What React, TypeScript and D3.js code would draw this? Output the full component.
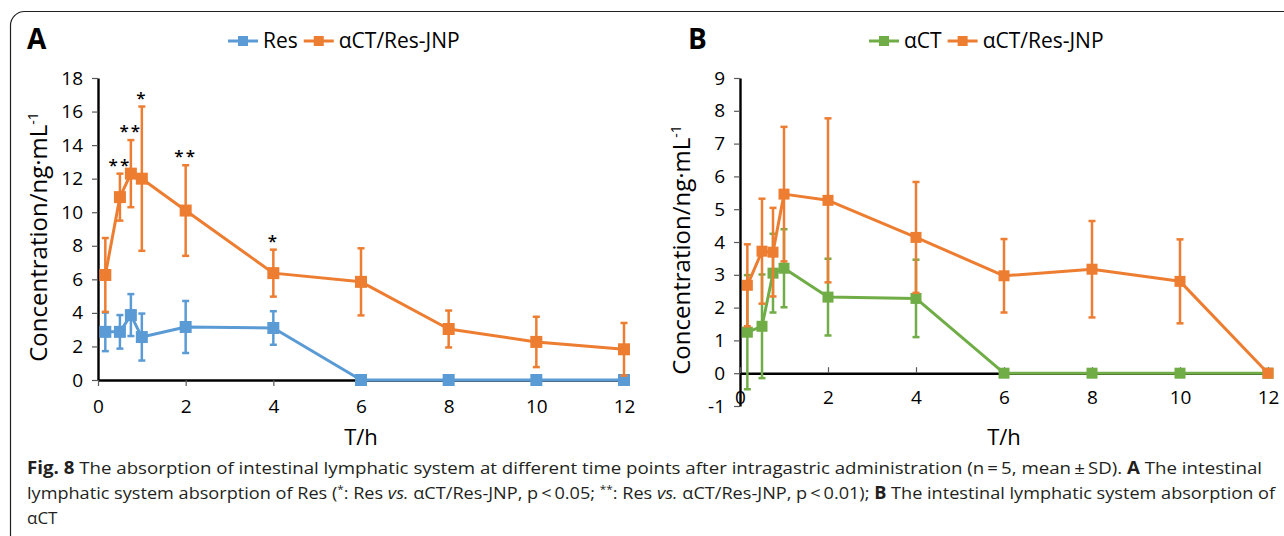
import React, { useRef, useEffect } from 'react';
import * as d3 from 'd3';

// sampling times (h), same for both panels
const times = [0.167, 0.5, 0.75, 1, 2, 4, 6, 8, 10, 12];
const xTicks = [0, 2, 4, 6, 8, 10, 12];

// panel A: Res
const resMean = [2.87, 2.87, 3.87, 2.56, 3.16, 3.1, 0, 0, 0, 0];
const resSD = [1.15, 1.0, 1.25, 1.4, 1.55, 1.0, 0, 0, 0, 0];
const jnpAMean = [6.26, 10.9, 12.3, 12.0, 10.1, 6.37, 5.85, 3.04, 2.27, 1.83];
const jnpASD = [2.2, 1.4, 2.0, 4.3, 2.7, 1.4, 2.0, 1.1, 1.5, 1.57];
const sigA = ['', '**', '**', '*', '**', '*', '', '', '', ''];
const yTicksA = [0, 2, 4, 6, 8, 10, 12, 14, 16, 18];

// panel B: αCT
const actMean = [1.25, 1.43, 3.05, 3.2, 2.32, 2.28, 0, 0, 0, 0];
const actSD = [1.74, 1.58, 1.2, 1.19, 1.17, 1.18, 0, 0, 0, 0];
const jnpBMean = [2.68, 3.72, 3.69, 5.46, 5.27, 4.14, 2.97, 3.17, 2.8, 0];
const jnpBSD = [1.25, 1.6, 1.35, 2.05, 2.5, 1.69, 1.12, 1.47, 1.28, 0];
const yTicksB = [-1, 0, 1, 2, 3, 4, 5, 6, 7, 8, 9];

const ORANGE = '#ED7D31';
const BLUE = '#5B9BD5';
const GREEN = '#70AD47';
const FONT = "'Open Sans', 'Noto Sans', sans-serif";

type Series = { name: string; mean: number[]; sd: number[]; color: string };

type Panel = {
  label: string;
  labelX: number;
  xRange: [number, number];
  yDomain: [number, number];
  yRange: [number, number];
  yTicks: number[];
  xTickDir: number;
  xPad: number;
  marker: number;
  series: Series[];
  sig?: string[];
  legendX: number;
  titleX: number;
  yTitleX: number;
};

const panels: Panel[] = [
  {
    label: 'A', labelX: 27,
    xRange: [98, 624], yDomain: [0, 18], yRange: [380, 78],
    yTicks: yTicksA, xTickDir: 1, xPad: 14, marker: 12,
    series: [
      { name: 'Res', mean: resMean, sd: resSD, color: BLUE },
      { name: 'αCT/Res-JNP', mean: jnpAMean, sd: jnpASD, color: ORANGE },
    ],
    sig: sigA, legendX: 228, titleX: 361, yTitleX: 47,
  },
  {
    label: 'B', labelX: 688,
    xRange: [740, 1268], yDomain: [-1, 9], yRange: [406, 78],
    yTicks: yTicksB, xTickDir: -1, xPad: 17, marker: 11,
    series: [
      { name: 'αCT', mean: actMean, sd: actSD, color: GREEN },
      { name: 'αCT/Res-JNP', mean: jnpBMean, sd: jnpBSD, color: ORANGE },
    ],
    legendX: 869, titleX: 1004, yTitleX: 690,
  },
];

const drawPanel = (svg: any, p: Panel) => {
  const x = d3.scaleLinear().domain([0, 12]).range(p.xRange);
  const y = d3.scaleLinear().domain(p.yDomain).range(p.yRange);
  const g = svg.append('g');

  // y axis
  const yAxis = g.append('g')
    .attr('transform', `translate(${p.xRange[0]},0)`)
    .call(d3.axisLeft(y).tickValues(p.yTicks).tickFormat((d: any) => String(d))
      .tickSize(6).tickSizeOuter(0).tickPadding(9));
  yAxis.select('.domain').attr('stroke', '#000').attr('stroke-width', 2.4);
  yAxis.selectAll('.tick line').attr('stroke', '#595959').attr('stroke-width', 1.2);
  yAxis.selectAll('.tick text').attr('font-size', 19).attr('font-family', FONT).attr('fill', '#000');

  // x axis at y = 0
  const xAxis = g.append('g')
    .attr('transform', `translate(0,${y(0)})`)
    .call(d3.axisBottom(x).tickValues(xTicks).tickSize(6 * p.xTickDir).tickSizeOuter(0).tickPadding(p.xPad));
  xAxis.select('.domain').attr('stroke', '#000').attr('stroke-width', 2.4);
  xAxis.selectAll('.tick line').attr('stroke', '#595959').attr('stroke-width', 1.2);
  xAxis.selectAll('.tick text').attr('font-size', 19).attr('font-family', FONT).attr('fill', '#000');

  const line = d3.line<number>()
    .x((_, i) => x(times[i]))
    .y((d) => y(d));

  p.series.forEach((s) => {
    g.append('path')
      .datum(s.mean)
      .attr('fill', 'none')
      .attr('stroke', s.color)
      .attr('stroke-width', 3)
      .attr('stroke-linejoin', 'round')
      .attr('d', line);

    const eb = g.append('g').attr('stroke', s.color).attr('stroke-width', 2.5);
    s.mean.forEach((m, i) => {
      if (!s.sd[i]) return;
      const cx = x(times[i]);
      const y1 = y(m + s.sd[i]);
      const y2 = y(m - s.sd[i]);
      eb.append('line').attr('x1', cx).attr('x2', cx).attr('y1', y1).attr('y2', y2);
      eb.append('line').attr('x1', cx - 3.5).attr('x2', cx + 3.5).attr('y1', y1).attr('y2', y1);
      eb.append('line').attr('x1', cx - 3.5).attr('x2', cx + 3.5).attr('y1', y2).attr('y2', y2);
    });

    g.append('g').selectAll('rect')
      .data(s.mean)
      .enter()
      .append('rect')
      .attr('x', (_: number, i: number) => x(times[i]) - p.marker / 2)
      .attr('y', (d: number) => y(d) - p.marker / 2)
      .attr('width', p.marker)
      .attr('height', p.marker)
      .attr('fill', s.color);
  });

  // significance stars (against the last series)
  if (p.sig) {
    const s = p.series[1];
    g.append('g').selectAll('text')
      .data(p.sig)
      .enter()
      .append('text')
      .attr('x', (_: string, i: number) => x(times[i]))
      .attr('y', (_: string, i: number) => y(s.mean[i] + s.sd[i]) - 3)
      .attr('text-anchor', 'middle')
      .attr('font-family', FONT)
      .attr('font-size', 17)
      .attr('font-weight', 600)
      .attr('letter-spacing', 2)
      .attr('fill', '#000')
      .text((d: string) => d);
  }

  // axis titles
  g.append('text')
    .attr('x', p.titleX)
    .attr('y', 445)
    .attr('text-anchor', 'middle')
    .attr('font-family', FONT)
    .attr('font-size', 22)
    .text('T/h');

  const yt = g.append('text')
    .attr('transform', `translate(${p.yTitleX},${(p.yRange[0] + p.yRange[1]) / 2 + 8}) rotate(-90)`)
    .attr('text-anchor', 'middle')
    .attr('font-family', FONT)
    .attr('font-size', 24);
  yt.append('tspan').text('Concentration/ng·mL');
  yt.append('tspan').attr('font-size', 14).attr('dy', -9).text('-1');

  // panel label
  g.append('text')
    .attr('x', p.labelX)
    .attr('y', 49)
    .attr('font-family', FONT)
    .attr('font-weight', 'bold')
    .attr('font-size', 28)
    .text(p.label);

  // legend
  let lx = p.legendX;
  p.series.forEach((s) => {
    g.append('line')
      .attr('x1', lx).attr('x2', lx + 30)
      .attr('y1', 41).attr('y2', 41)
      .attr('stroke', s.color).attr('stroke-width', 3);
    g.append('rect')
      .attr('x', lx + 10).attr('y', 36)
      .attr('width', 10).attr('height', 10)
      .attr('fill', s.color);
    const t = g.append('text')
      .attr('x', lx + 35)
      .attr('y', 48)
      .attr('font-family', FONT)
      .attr('font-size', 21)
      .text(s.name);
    lx += 35 + (t.node() as SVGTextElement).getComputedTextLength() + 6;
  });
};

const App = () => {
  const svgRef = useRef<SVGSVGElement>(null);

  useEffect(() => {
    const svg = d3.select(svgRef.current);
    svg.selectAll('*').remove();

    // figure frame
    svg.append('rect')
      .attr('x', 10.5).attr('y', 11.5)
      .attr('width', 1320).attr('height', 600)
      .attr('rx', 14)
      .attr('fill', 'none')
      .attr('stroke', '#231f20')
      .attr('stroke-width', 1.2);

    panels.forEach((p) => drawPanel(svg, p));

    // caption
    const cap = svg.append('g')
      .attr('font-family', "'Liberation Sans Narrow', 'Open Sans', sans-serif")
      .attr('font-size', 17)
      .attr('fill', '#231f20');

    const l1 = cap.append('text').attr('x', 27).attr('y', 474)
      .attr('textLength', 1235).attr('lengthAdjust', 'spacingAndGlyphs');
    l1.append('tspan').attr('font-weight', 'bold').text('Fig. 8');
    l1.append('tspan').text('  The absorption of intestinal lymphatic system at different time points after intragastric administration (n\u2009=\u20095, mean\u2009±\u2009SD). ');
    l1.append('tspan').attr('font-weight', 'bold').text('A');
    l1.append('tspan').text(' The intestinal');

    const l2 = cap.append('text').attr('x', 27).attr('y', 499)
      .attr('textLength', 1248).attr('lengthAdjust', 'spacingAndGlyphs');
    l2.append('tspan').text('lymphatic system absorption of Res (');
    l2.append('tspan').attr('font-size', 11).attr('dy', -6).text('*');
    l2.append('tspan').attr('dy', 6).text(': Res ');
    l2.append('tspan').attr('font-style', 'italic').text('vs.');
    l2.append('tspan').text(' αCT/Res-JNP, p\u2009<\u20090.05; ');
    l2.append('tspan').attr('font-size', 11).attr('dy', -6).text('**');
    l2.append('tspan').attr('dy', 6).text(': Res ');
    l2.append('tspan').attr('font-style', 'italic').text('vs.');
    l2.append('tspan').text(' αCT/Res-JNP, p\u2009<\u20090.01); ');
    l2.append('tspan').attr('font-weight', 'bold').text('B');
    l2.append('tspan').text(' The intestinal lymphatic system absorption of');

    cap.append('text').attr('x', 27).attr('y', 524).text('αCT');
  }, []);

  return (
    <svg
      ref={svgRef}
      width={1284}
      height={536}
      style={{ position: 'absolute', left: 0, top: 0, background: '#fff' }}
    />
  );
};

export default App;
